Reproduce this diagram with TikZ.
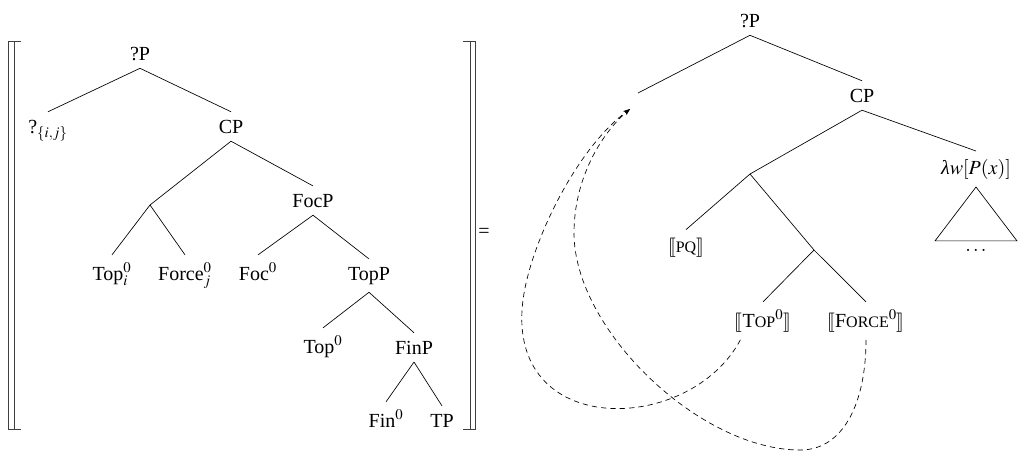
\documentclass[tikz,border=0pt]{standalone}
\usepackage{mathptmx}
\usepackage{stmaryrd}
\usepackage{fontspec}
\setmainfont{Liberation Serif}
\usepackage{tikz}
\usetikzlibrary{arrows.meta,calc}
\newcommand{\fsc}[2]{#1{\fontsize{12pt}{13pt}\selectfont #2}}

\begin{document}
\begin{tikzpicture}[x=0.75pt, y=-0.75pt,
          cat/.style={anchor=base, inner xsep=1pt, inner ysep=6pt, outer sep=0pt,
                      font=\fontsize{15pt}{18pt}\selectfont},
          br/.style={line width=0.5pt},
          mv/.style={dash pattern=on 4pt off 3pt, line width=0.5pt,
                     -{Stealth[length=5pt,width=3.5pt]}},
          bkt/.style={line width=0.7pt, black!75}
        ]
          \useasboundingbox (0,0) rectangle (1019,451);
          % left tree, inside the denotation brackets
          \node[cat] (qp)     at (140,60)  {?P};
          \node[cat] (qij)    at (48,133)  {?$_{\{i,j\}}$};
          \node[cat] (cp)     at (231,133) {CP};
          \coordinate (x1)    at (150,205);
          \node[cat] (focp)   at (313,207) {FocP};
          \node[cat] (topi)   at (112,280) {Top$_i^0$};
          \node[cat] (forcej) at (185,280) {Force$_j^0$};
          \node[cat] (foc)    at (258,280) {Foc$^0$};
          \node[cat] (topp)   at (369,280) {TopP};
          \node[cat] (top)    at (323,353) {Top$^0$};
          \node[cat] (finp)   at (414,354) {FinP};
          \node[cat] (fin)    at (386,427) {Fin$^0$};
          \node[cat] (tp)     at (442,427) {TP};
          \draw[br] (qp.south) -- (qij.north);
          \draw[br] (qp.south) -- (cp.north);
          \draw[br] (cp.south) -- (x1);
          \draw[br] (cp.south) -- (focp.north);
          \draw[br] (x1) -- (topi.north);
          \draw[br] (x1) -- (forcej.north);
          \draw[br] (focp.south) -- (foc.north);
          \draw[br] (focp.south) -- (topp.north);
          \draw[br] (topp.south) -- (top.north);
          \draw[br] (topp.south) -- (finp.north);
          \draw[br] (finp.south) -- (fin.north);
          \draw[br] (finp.south) -- (tp.north);
          % double brackets
          \draw[bkt] (21,41) -- (8.5,41) -- (8.5,429) -- (21,429);
          \draw[bkt] (14,41) -- (14,429);
          \draw[bkt] (463,41) -- (475,41) -- (475,429) -- (463,429);
          \draw[bkt] (470,41) -- (470,429);
          \node[cat] (eq) at (484,237) {=};
          % right tree
          \node[cat] (rqp)    at (750,27)  {?P};
          \coordinate (gap)   at (638,93);
          \node[cat] (rcp)    at (862,102) {CP};
          \coordinate (x2)    at (750,174);
          \node[cat] (lam)    at (976,174) {{\itshape λ}$w[P(x)]$};
          \node[cat] (dots)   at (976,251) {$\ldots$};
          \node[cat] (pq)     at (686,252) {$\llbracket$\fsc{}{PQ}$\rrbracket$};
          \coordinate (x3)    at (814,250);
          \node[cat] (ttop)   at (763,327) {$\llbracket$\fsc{T}{OP}$^0\rrbracket$};
          \node[cat] (tforce) at (866,327) {$\llbracket$\fsc{F}{ORCE}$^0\rrbracket$};
          \coordinate (tgt)   at (630,109);
          \draw[br] (rqp.south) -- (gap);
          \draw[br] (rqp.south) -- (rcp.north);
          \draw[br] (rcp.south) -- (x2);
          \draw[br] (rcp.south) -- (lam.north);
          \draw[br] (lam.south) -- ($(dots.north)+(-41,0)$) -- ($(dots.north)+(41,0)$) -- cycle;
          \draw[br] (x2) -- (pq.north);
          \draw[br] (x2) -- (x3);
          \draw[br] (x3) -- (ttop.north);
          \draw[br] (x3) -- (tforce.north);
          % movement of the two heads
          \draw[mv] (ttop.220) .. controls (690,435) and (505,440) .. (523,300)
            .. controls (530,245) and (575,150) .. (tgt);
          \draw[mv] (tforce.south) .. controls (866,400) and (845,450) .. (800,450)
            .. controls (700,450) and (574,330) .. (574,233)
            .. controls (574,180) and (600,135) .. (tgt);
        \end{tikzpicture}
\end{document}
